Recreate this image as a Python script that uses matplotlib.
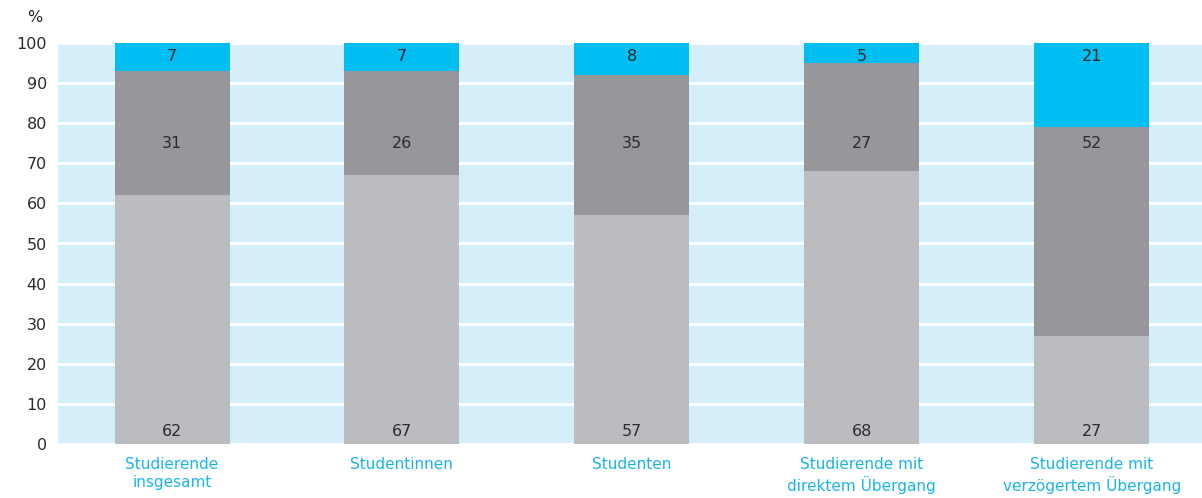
import matplotlib
matplotlib.use("Agg")
import matplotlib.pyplot as plt
import numpy as np

categories = ["Studierende\ninsgesamt", "Studentinnen", "Studenten",
              "Studierende mit\ndirektem Übergang", "Studierende mit\nverzögertem Übergang"]
bottom_vals = [62, 67, 57, 68, 27]
middle_vals = [31, 26, 35, 27, 52]
top_vals = [7, 7, 8, 5, 21]
yticks = [0, 10, 20, 30, 40, 50, 60, 70, 80, 90, 100]

plt.rcParams['font.family'] = ['DejaVu Sans']

W, H = 1202, 498
fig = plt.figure(figsize=(W/100, H/100), dpi=100)
ax = fig.add_axes([58/W, (H-444)/H, (1202-58)/W, (444-43)/H])
ax.set_facecolor('#D4EEFA')

x = np.arange(len(categories))
bw = 0.5
c_bot, c_mid, c_top = '#BBBCC0', '#97979B', '#00BEF2'
b = np.array(bottom_vals)
m = np.array(middle_vals)
t = np.array(top_vals)
ax.bar(x, b, bw, color=c_bot, zorder=3)
ax.bar(x, m, bw, bottom=b, color=c_mid, zorder=3)
ax.bar(x, t, bw, bottom=b+m, color=c_top, zorder=3)

tc = '#2b2b2b'
fs = 11.5
for i in range(len(x)):
    ax.text(x[i], 3.0, str(bottom_vals[i]), ha='center', va='center', fontsize=fs, color=tc, zorder=4)
    ax.text(x[i], 74.9, str(middle_vals[i]), ha='center', va='center', fontsize=fs, color=tc, zorder=4)
    ax.text(x[i], 96.6, str(top_vals[i]), ha='center', va='center', fontsize=fs, color=tc, zorder=4)

ax.set_xlim(-0.496, 4.48)
ax.set_ylim(0, 100)
ax.set_yticks(yticks)
ax.set_yticklabels([str(v) for v in yticks], fontsize=fs, color=tc)
ax.yaxis.grid(True, color='white', linewidth=2, zorder=1)
ax.set_axisbelow(True)
ax.set_xticks(x)
ax.set_xticklabels(categories, fontsize=11, color='#1BB4E8', linespacing=1.3)
ax.tick_params(axis='both', length=0)
ax.tick_params(axis='y', pad=8)
ax.tick_params(axis='x', pad=9)
for s in ax.spines.values():
    s.set_visible(False)

fig.text(35/W, 1-18/H, '%', ha='center', va='center', fontsize=fs, color=tc)

fig.savefig('out.png', dpi=100)
